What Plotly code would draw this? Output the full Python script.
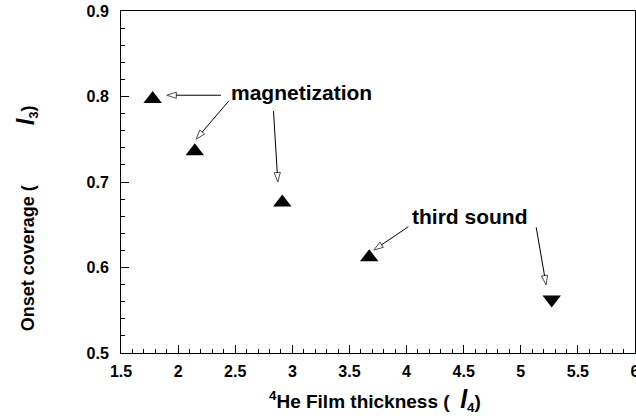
import plotly.graph_objects as go

# ---- data ----
up_x = [1.777, 2.146, 2.912, 3.673]          # magnetization + third sound (up triangles)
up_y = [0.797, 0.736, 0.676, 0.612]
down_x = [5.271]                              # third sound (down triangle)
down_y = [0.5625]

x_ticks = [1.5, 2, 2.5, 3, 3.5, 4, 4.5, 5, 5.5, 6]
y_ticks = [0.5, 0.6, 0.7, 0.8, 0.9]

# annotation arrows: (tail, tip) in data units
arrow_tails = [(2.375, 0.8015), (2.445, 0.795), (2.835, 0.783), (4.016, 0.6477), (5.135, 0.647)]
arrow_tips = [(1.901, 0.8015), (2.157, 0.750), (2.873, 0.700), (3.713, 0.6204), (5.222, 0.5796)]
labels = [("magnetization", 3.079, 0.8047), ("third sound", 4.548, 0.6594)]

FONT = "Liberation Sans, Arial, sans-serif"

fig = go.Figure()

fig.add_trace(go.Scatter(
    x=up_x, y=up_y, mode="markers",
    marker=dict(symbol="triangle-up", size=16, color="black"),
    showlegend=False, hoverinfo="skip"))
fig.add_trace(go.Scatter(
    x=down_x, y=down_y, mode="markers",
    marker=dict(symbol="triangle-down", size=16, color="black"),
    showlegend=False, hoverinfo="skip"))

for (tx, ty), (hx, hy) in zip(arrow_tails, arrow_tips):
    fig.add_trace(go.Scatter(
        x=[tx, hx], y=[ty, hy], mode="lines+markers",
        line=dict(color="black", width=1),
        marker=dict(symbol="arrow", size=[0, 10], color="white",
                    line=dict(color="black", width=1), angleref="previous"),
        showlegend=False, hoverinfo="skip", cliponaxis=False))

annotations = []
for text, lx, ly in labels:
    annotations.append(dict(x=lx, y=ly, xref="x", yref="y", text=text, showarrow=False,
                            font=dict(family=FONT, size=21, color="black", weight="bold"),
                            xanchor="center", yanchor="middle"))

annotations.append(dict(
    x=0.495, y=0, xref="paper", yref="paper", yshift=-47,
    text="<sup>4</sup>He Film thickness (&nbsp;&nbsp;<span style='font-size:25px'><i>l</i></span><sub>4</sub>)",
    showarrow=False, xanchor="center", yanchor="middle",
    font=dict(family=FONT, size=19, color="black", weight="bold")))
annotations.append(dict(
    x=0, y=0.394, xref="paper", yref="paper", xshift=-95,
    text="Onset coverage (" + "&nbsp;" * 12 + "<span style='font-size:24px'><i>l</i></span><sub>3</sub>)",
    showarrow=False, xanchor="center", yanchor="middle", textangle=-90,
    font=dict(family=FONT, size=18, color="black", weight="bold")))

axis_common = dict(
    showgrid=False, zeroline=False, showline=True, linecolor="black", linewidth=1,
    mirror=True, ticks="inside", ticklen=8, tickwidth=1, tickcolor="black",
    automargin=False, ticklabeloverflow="allow",
    tickfont=dict(family=FONT, size=16, color="black", weight="bold"),
)

fig.update_xaxes(range=[1.5, 6], tickvals=x_ticks, ticktext=[f"{v:g}" for v in x_ticks],
                 minor=dict(ticks="inside", ticklen=4, dtick=0.1, tick0=1.5, tickcolor="black", showgrid=False),
                 ticklabelstandoff=4, **axis_common)
fig.update_yaxes(range=[0.5, 0.9], tickvals=y_ticks, ticktext=[f"{v:g}" for v in y_ticks],
                 minor=dict(ticks="inside", ticklen=4, dtick=0.02, tick0=0.5, tickcolor="black", showgrid=False),
                 ticklabelstandoff=8, **axis_common)

fig.update_layout(
    width=636, height=420,
    margin=dict(l=121, r=1, t=11, b=67, autoexpand=False),
    paper_bgcolor="white", plot_bgcolor="white",
    annotations=annotations,
    showlegend=False,
)

fig.write_html("out.html", config={"displayModeBar": False},
               post_script="document.body.style.margin='0';document.body.style.overflow='hidden';")
